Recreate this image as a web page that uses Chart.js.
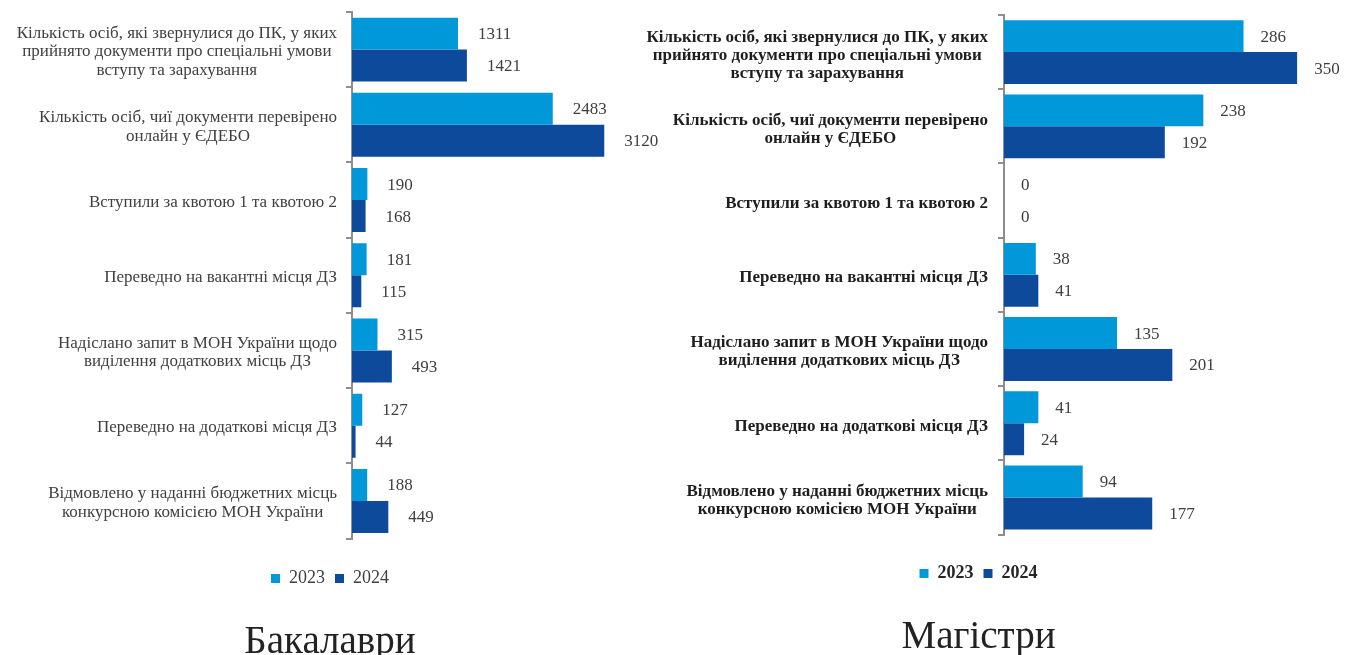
<!DOCTYPE html>
<html lang="uk">
<head>
<meta charset="utf-8">
<script src="https://cdn.jsdelivr.net/npm/chart.js@4"></script>
<style>
  html, body { margin: 0; padding: 0; background: #fff; overflow: hidden; }
  #wrap { position: relative; width: 1346px; height: 655px; }
  canvas { position: absolute; top: 0; }
  #bach { left: 0; width: 660px; height: 666px; }
  #mag { left: 618px; width: 728px; height: 661px; }
</style>
</head>
<body>
<div id="wrap">
  <canvas id="bach" width="660" height="666"></canvas>
  <canvas id="mag" width="728" height="661"></canvas>
</div>
<script>
// --- Дані ---
const categories = [
  ['Кількість осіб, які звернулися до ПК, у яких', 'прийнято документи про спеціальні умови', 'вступу та зарахування'],
  ['Кількість осіб, чиї документи перевірено', 'онлайн у ЄДЕБО'],
  'Вступили за квотою 1 та квотою 2',
  'Переведно на вакантні місця ДЗ',
  ['Надіслано запит в МОН України щодо', 'виділення додаткових місць ДЗ'],
  'Переведно на додаткові місця ДЗ',
  ['Відмовлено у наданні бюджетних місць', 'конкурсною комісією МОН України']
];
const seriesNames = ['2023', '2024'];
const bachelor2023 = [1311, 2483, 190, 181, 315, 127, 188];
const bachelor2024 = [1421, 3120, 168, 115, 493, 44, 449];
const master2023 = [286, 238, 0, 38, 135, 41, 94];
const master2024 = [350, 192, 0, 41, 201, 24, 177];

const COLOR_2023 = '#0098d9';
const COLOR_2024 = '#0e4a9c';
const AXIS_GRAY = '#8e8e8e';
const SERIF = '"Liberation Serif", "DejaVu Serif", serif';

// Підписи категорій: рядки центровані між собою, блок притиснутий до осі
const catLabels = {
  id: 'catLabels',
  afterDraw(chart, args, opts) {
    const ctx = chart.ctx;
    const yScale = chart.scales.y;
    const right = yScale.right - opts.gap;
    ctx.save();
    ctx.font = opts.font;
    ctx.fillStyle = opts.color;
    ctx.textAlign = 'center';
    ctx.textBaseline = 'middle';
    chart.data.labels.forEach((label, i) => {
      const lines = Array.isArray(label) ? label : [label];
      const w = Math.max(...lines.map(l => ctx.measureText(l).width));
      const cx = right - w / 2;
      const cy = yScale.getPixelForValue(i) + opts.shift;
      const top = cy - (lines.length - 1) * opts.lineHeight / 2;
      lines.forEach((line, j) => ctx.fillText(line, cx, top + j * opts.lineHeight));
    });
    ctx.restore();
  }
};

// Значення праворуч від кожного стовпця
const barValues = {
  id: 'barValues',
  afterDatasetsDraw(chart, args, opts) {
    const ctx = chart.ctx;
    ctx.save();
    ctx.font = opts.font;
    ctx.fillStyle = opts.color;
    ctx.textAlign = 'left';
    ctx.textBaseline = 'middle';
    chart.data.datasets.forEach((ds, d) => {
      chart.getDatasetMeta(d).data.forEach((bar, i) => {
        ctx.fillText(String(ds.data[i]), bar.x + opts.gap, bar.y + 1);
      });
    });
    ctx.restore();
  }
};

function makeChart(id, cfg) {
  return new Chart(document.getElementById(id), {
    type: 'bar',
    data: {
      labels: categories,
      datasets: [
        { label: seriesNames[0], data: cfg.d2023, backgroundColor: COLOR_2023, barPercentage: 1, categoryPercentage: cfg.catPct },
        { label: seriesNames[1], data: cfg.d2024, backgroundColor: COLOR_2024, barPercentage: 1, categoryPercentage: cfg.catPct }
      ]
    },
    options: {
      indexAxis: 'y',
      responsive: false,
      animation: false,
      layout: { padding: cfg.padding },
      scales: {
        x: {
          min: 0, max: cfg.xMax,
          grid: { display: false },
          border: { display: false },
          ticks: { display: false },
          afterFit: s => { s.height = cfg.xGap; }
        },
        y: {
          grid: { display: true, drawOnChartArea: false, drawTicks: true, tickLength: 6, color: AXIS_GRAY, lineWidth: 2 },
          border: { display: true, color: AXIS_GRAY, width: 2 },
          ticks: { display: false },
          afterFit: s => { s.width = cfg.yWidth; }
        }
      },
      plugins: {
        tooltip: { enabled: false },
        legend: {
          position: 'bottom',
          labels: {
            boxWidth: 9, boxHeight: 9, padding: 10,
            color: cfg.legendColor,
            font: { family: SERIF, size: 18, weight: cfg.legendWeight }
          }
        },
        title: {
          display: true,
          position: 'bottom',
          text: cfg.title,
          color: '#222222',
          font: { family: SERIF, size: 39, weight: 'normal', lineHeight: 1.2 },
          padding: { top: cfg.titlePad, bottom: 0 }
        },
        catLabels: cfg.catLabels,
        barValues: { font: '17px ' + SERIF, color: '#404040', gap: cfg.valueGap }
      }
    },
    plugins: [catLabels, barValues]
  });
}

makeChart('bach', {
  d2023: bachelor2023, d2024: bachelor2024,
  title: 'Бакалаври',
  xMax: 3500, catPct: 0.85,
  yWidth: 327, xGap: 21, titlePad: 21.6,
  padding: { top: 12, right: 25, bottom: 0, left: 25 },
  legendColor: '#404040', legendWeight: 'normal',
  valueGap: 20,
  catLabels: { font: '17px ' + SERIF, color: '#404040', gap: 15, lineHeight: 18.5, shift: 2 }
});

makeChart('mag', {
  d2023: master2023, d2024: master2024,
  title: 'Магістри',
  xMax: 400, catPct: 0.86,
  yWidth: 386, xGap: 20, titlePad: 21.6,
  padding: { top: 15, right: 7, bottom: 0, left: 0 },
  legendColor: '#262626', legendWeight: 'bold',
  valueGap: 17,
  catLabels: { font: 'bold 17px ' + SERIF, color: '#1e1e1e', gap: 16, lineHeight: 18, shift: 3 }
});
</script>
</body>
</html>
